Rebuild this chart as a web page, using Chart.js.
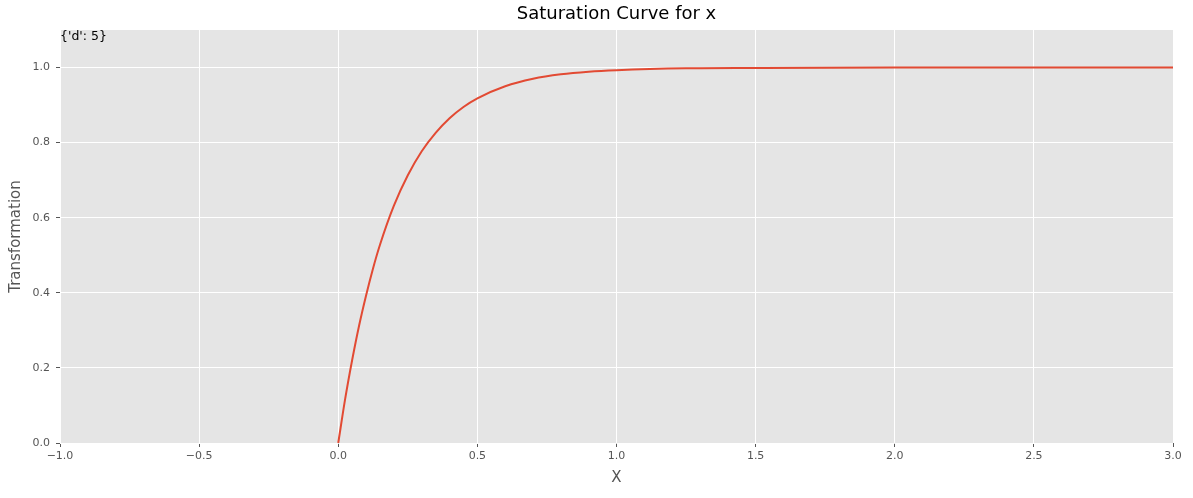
<!DOCTYPE html>
<html>
<head>
<meta charset="utf-8">
<script src="https://cdn.jsdelivr.net/npm/chart.js@4/dist/chart.umd.min.js"></script>
<style>
  html, body { margin: 0; padding: 0; background: #fff; }
  #wrap { width: 1193px; height: 498px; }
</style>
</head>
<body>
<div id="wrap"><canvas id="satChart" width="1193" height="498"></canvas></div>
<script>
// values
const xValues = [0, 0.025, 0.05, 0.075, 0.1, 0.125, 0.15, 0.2, 0.25, 0.3, 0.35, 0.4, 0.45, 0.5, 0.6, 0.7, 0.8, 0.9, 1.0, 1.25, 1.5, 2.0, 2.5, 3.0];
const yValues = [0, 0.118, 0.221, 0.313, 0.393, 0.465, 0.528, 0.632, 0.713, 0.777, 0.826, 0.865, 0.895, 0.918, 0.950, 0.970, 0.982, 0.989, 0.993, 0.998, 0.999, 1.0, 1.0, 1.0];
const xTicks = [-1.0, -0.5, 0.0, 0.5, 1.0, 1.5, 2.0, 2.5, 3.0];
const yTicks = [0.0, 0.2, 0.4, 0.6, 0.8, 1.0];
const titleText = 'Saturation Curve for x';
const xLabel = 'X';
const yLabel = 'Transformation';
const paramText = "{'d': 5}";

const font = "'DejaVu Sans', sans-serif";

function fmt(v) {
    const s = v.toFixed(1);
    return s.replace('-', '\u2212');
}

// grey panel + texts, ggplot style
const decor = {
    id: 'decor',
    beforeDraw(chart) {
        const { ctx, chartArea: a } = chart;
        ctx.save();
        ctx.fillStyle = '#E5E5E5';
        ctx.fillRect(a.left, a.top, a.right - a.left, a.bottom - a.top);
        ctx.restore();
    },
    afterDraw(chart) {
        const { ctx, chartArea: a } = chart;
        const cx = (a.left + a.right) / 2;
        ctx.save();
        ctx.textAlign = 'center';
        ctx.textBaseline = 'middle';
        ctx.fillStyle = '#000';
        ctx.font = '18px ' + font;
        ctx.fillText(titleText, cx, 14);
        ctx.fillStyle = '#555';
        ctx.font = '15px ' + font;
        ctx.fillText(xLabel, cx, 478);
        ctx.translate(16, (a.top + a.bottom) / 2);
        ctx.rotate(-Math.PI / 2);
        ctx.fillText(yLabel, 0, 0);
        ctx.restore();
        ctx.save();
        ctx.fillStyle = '#000';
        ctx.font = '12.5px ' + font;
        ctx.textAlign = 'left';
        ctx.textBaseline = 'top';
        ctx.fillText(paramText, a.left, a.top);
        ctx.restore();
    }
};

const ctx = document.getElementById('satChart').getContext('2d');
const chart = new Chart(ctx, {
    type: 'scatter',
    data: {
        datasets: [{
            data: xValues.map((x, i) => ({ x: x, y: yValues[i] })),
            showLine: true,
            borderColor: '#E24A33',
            borderWidth: 2,
            pointRadius: 0,
            cubicInterpolationMode: 'monotone'
        }]
    },
    options: {
        responsive: false,
        animation: false,
        layout: { padding: { left: 0, right: 20, top: 30, bottom: 0 } },
        plugins: {
            legend: { display: false },
            tooltip: { enabled: false },
            title: { display: false }
        },
        scales: {
            x: {
                type: 'linear',
                min: -1,
                max: 3,
                afterBuildTicks: s => { s.ticks = xTicks.map(v => ({ value: v })); },
                afterFit: s => { s.height = 55; },
                grid: { color: '#FFFFFF', lineWidth: 1, tickColor: '#555', tickLength: 4 },
                border: { display: false },
                ticks: {
                    color: '#555', padding: 3, maxRotation: 0,
                    font: { family: font, size: 11 },
                    callback: v => fmt(v)
                }
            },
            y: {
                type: 'linear',
                min: 0,
                max: 1.1,
                afterBuildTicks: s => { s.ticks = yTicks.map(v => ({ value: v })); },
                afterFit: s => { s.width = 60; },
                grid: { color: '#FFFFFF', lineWidth: 1, tickColor: '#555', tickLength: 4 },
                border: { display: false },
                ticks: {
                    color: '#555', padding: 6,
                    font: { family: font, size: 11 },
                    callback: v => fmt(v)
                }
            }
        }
    },
    plugins: [decor]
});
</script>
</body>
</html>
